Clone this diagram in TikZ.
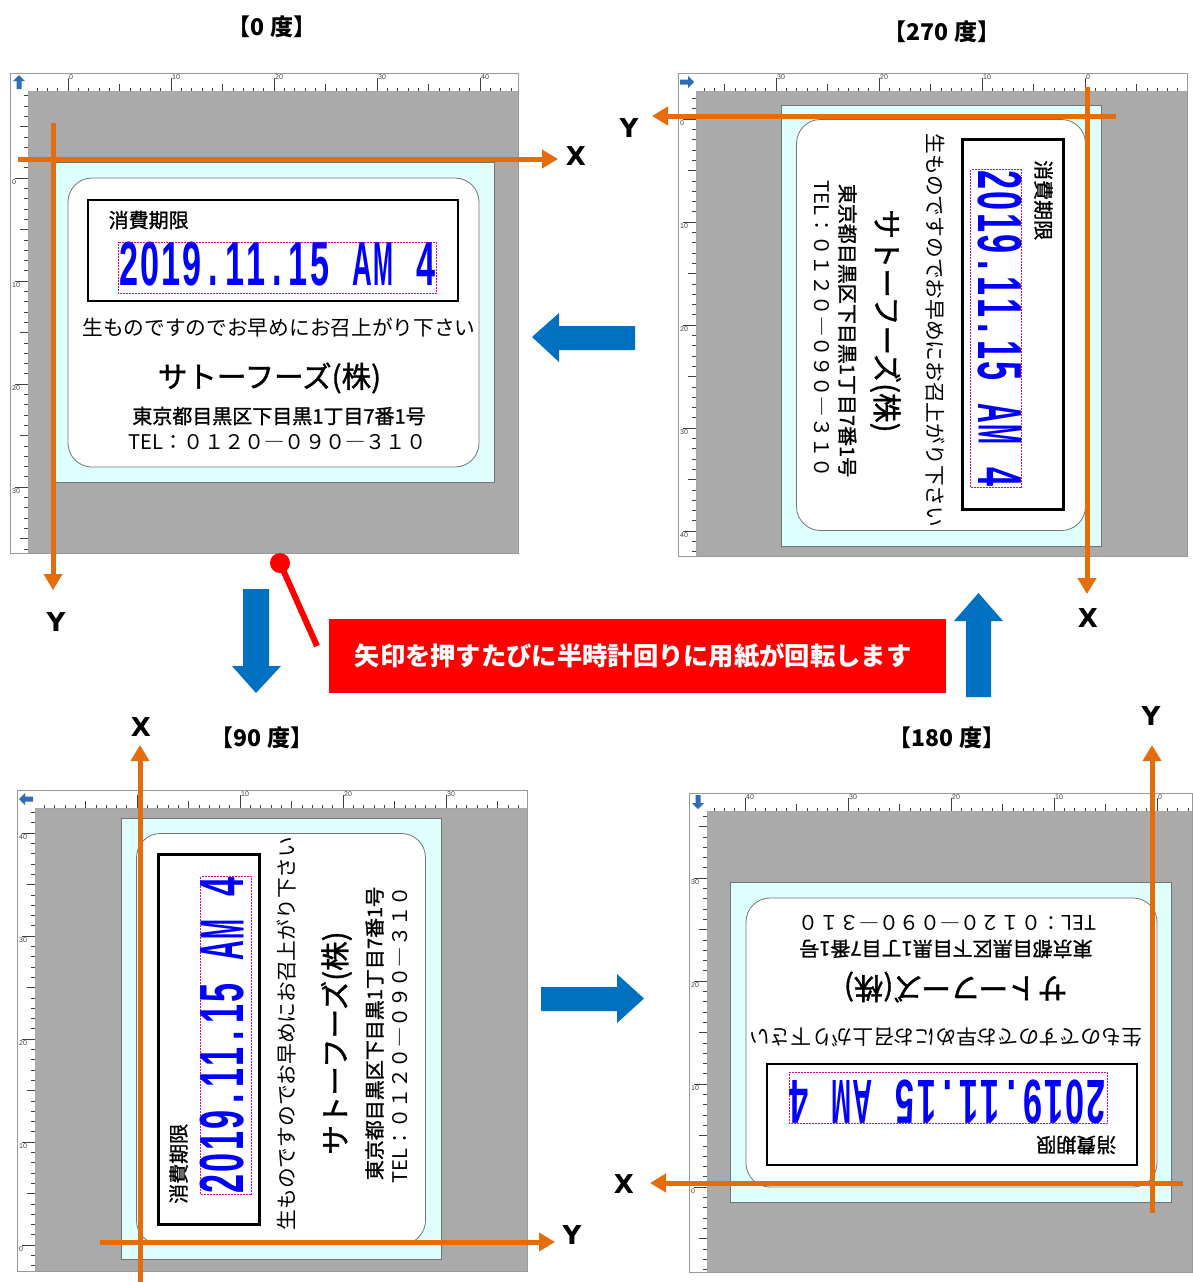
\documentclass[tikz,border=0pt]{standalone}
\usepackage{fontspec}
\usepackage{graphicx}
\usetikzlibrary{arrows.meta}
\newfontfamily\jp{Noto Sans CJK JP}
\newfontfamily\jpm{Noto Sans CJK JP}[FakeBold=1.2]
\newfontfamily\dvs{DejaVu Sans}
\newfontfamily\lib{Liberation Sans}
\definecolor{orng}{RGB}{228,108,10}
\definecolor{bluearr}{RGB}{0,112,192}
\definecolor{cyanp}{RGB}{223,255,255}
\definecolor{grayarea}{RGB}{170,170,170}
\definecolor{iconblue}{RGB}{46,109,181}
\definecolor{datablue}{RGB}{0,0,255}

\newcommand{\mc}[1]{\makebox[0.62em][c]{#1}}
\newcommand{\mcs}[2]{\makebox[0.62em][c]{\scalebox{#1}[1]{#2}}}
\newcommand{\panelframe}[4]{%
  \fill[grayarea] (#1,#2) rectangle (#3,#4);
  \fill[white] (#1,#2) rectangle (#3,#2+18);
  \fill[white] (#1,#2) rectangle (#1+18,#4);
  \draw[black!35, line width=0.6pt] (#1+18,#2+18) -- (#3,#2+18);
  \draw[black!35, line width=0.6pt] (#1+18,#2+18) -- (#1+18,#4);
  \draw[black!40, line width=0.8pt] (#1,#2) rectangle (#3,#4);
}
% #1 y of ruler bottom, #2 origin x, #3 direction, #4 kmin, #5 kmax, #6 y of frame top
\newcommand{\topruler}[6]{%
  \foreach \k in {#4,...,#5}{%
    \pgfmathsetmacro{\xx}{#2+#3*10.3*\k}%
    \pgfmathtruncatemacro{\mm}{mod(abs(\k),10)}%
    \pgfmathtruncatemacro{\ff}{mod(abs(\k),5)}%
    \ifnum\mm=0 \def\tl{13}\else\ifnum\ff=0 \def\tl{7}\else\def\tl{3.5}\fi\fi
    \draw[tickc] (\xx,#1) -- (\xx,#1-\tl);
    \ifnum\mm=0 \ifnum\k>-1 \node[rlab,anchor=north west] at (\xx+1,#6+1.5) {\k};\fi\fi
  }}
% #1 x of ruler right, #2 origin y, #3 direction, #4 kmin, #5 kmax, #6 x of frame left
\newcommand{\leftruler}[6]{%
  \foreach \k in {#4,...,#5}{%
    \pgfmathsetmacro{\yy}{#2+#3*10.3*\k}%
    \pgfmathtruncatemacro{\mm}{mod(abs(\k),10)}%
    \pgfmathtruncatemacro{\ff}{mod(abs(\k),5)}%
    \ifnum\mm=0 \def\tl{13}\else\ifnum\ff=0 \def\tl{8}\else\def\tl{4}\fi\fi
    \draw[tickc] (#1,\yy) -- (#1-\tl,\yy);
    \ifnum\mm=0 \ifnum\k>-1 \node[rlab,anchor=north west] at (#6+2,\yy+1) {\k};\fi\fi
  }}
\newcommand{\cornericon}[3]{%
  \begin{scope}[shift={(#1,#2)},rotate=#3]
    \fill[iconblue] (0,-7) -- (-6,-1) -- (-2.5,-1) -- (-2.5,7) -- (2.5,7) -- (2.5,-1) -- (6,-1) -- cycle;
  \end{scope}}
\newcommand{\labelbody}[1]{%
  \filldraw[fill=cyanp, draw=black!55, line width=0.8pt] (-220,-160) rectangle (221,160);
  \filldraw[fill=white, draw=black!55, line width=0.8pt, rounded corners=24pt] (-205.5,-144.5) rectangle (205.5,144.5);
  \draw[black, line width=2.4pt] (-185.5,-122.5) rectangle (184.5,-21.5);
  \draw[magenta, line width=0.5pt, densely dotted] (-155.5,-80.5) rectangle (162.5,-29.5);
  \node[inner sep=0pt, anchor=base west] (#1-date) at (-155.5,-37.5)
    {\resizebox{318pt}{43.5pt}{\color{datablue}\lib\bfseries\mc2\mc0\mc1\mc9\mc.\mc1\mc1\mc.\mc1\mc5\mc{ }\mcs{0.8}{A}\mcs{0.7}{M}\mc{ }\mc4}};
  \node[inner sep=0pt, anchor=west] (#1-head) at (-165,-102.5)
    {\jpm\fontsize{20pt}{24pt}\selectfont 消費期限};
  \node[inner sep=0pt] (#1-note) at (5.5,5.5)
    {\jp\fontsize{20.7pt}{24pt}\selectfont 生ものですのでお早めにお召上がり下さい};
  \node[inner sep=0pt] (#1-co) at (-4,55.5)
    {\jpm\fontsize{29.5pt}{32pt}\selectfont サトーフーズ(株)};
  \node[inner sep=0pt] (#1-addr) at (5.5,93.5)
    {\jpm\fontsize{20pt}{24pt}\selectfont 東京都目黒区下目黒1丁目7番1号};
  \node[inner sep=0pt] (#1-tel) at (4,119.5)
    {\jp\fontsize{20.2pt}{24pt}\selectfont TEL：０１２０―０９０―３１０};
}

\begin{document}
\begin{tikzpicture}[x=1pt,y=-1pt,
  tickc/.style={draw=black!75, line width=0.6pt},
  rlab/.style={font=\lib\fontsize{7pt}{8pt}\selectfont, text=black!75, inner sep=0pt},
  oaxis/.style={draw=orng, line width=5pt, -{Triangle[width=18pt,length=16pt]}},
  axlab/.style={font=\dvs\bfseries\fontsize{26pt}{30pt}\selectfont, inner sep=0pt},
  ttl/.style={font=\jp\bfseries\fontsize{23pt}{27pt}\selectfont, inner sep=0pt},
  barrow/.style={fill=bluearr}]
\useasboundingbox (0,0) rectangle (1192,1282);

% ---------- panel 0 deg ----------
\panelframe{10}{73}{518}{553}
\topruler{91}{68}{1}{-3}{43}{73}
\leftruler{28}{178}{1}{-8}{36}{10}
\cornericon{19}{82}{0}
\begin{scope}[shift={(273.5,322.5)}, transform shape]
  \labelbody{a}
\end{scope}

% ---------- panel 270 deg ----------
\panelframe{678}{73}{1187}{556}
\topruler{91}{1085}{-1}{-9}{37}{73}
\leftruler{696}{119}{1}{-2}{42}{678}
\cornericon{687}{82}{-90}
\begin{scope}[shift={(941,325)}, rotate=-90, transform shape]
  \labelbody{b}
\end{scope}

% ---------- panel 90 deg ----------
\panelframe{17}{790}{527}{1271}
\topruler{808}{137}{1}{-9}{37}{790}
\leftruler{35}{1245}{-1}{-2}{42}{17}
\cornericon{26}{799}{90}
\begin{scope}[shift={(281,1039)}, rotate=90, transform shape]
  \labelbody{c}
\end{scope}

% ---------- panel 180 deg ----------
\panelframe{689}{793}{1192}{1272}
\topruler{811}{1157}{-1}{-3}{43}{793}
\leftruler{707}{1187}{-1}{-8}{36}{689}
\cornericon{698}{802}{180}
\begin{scope}[shift={(951.5,1042.5)}, rotate=180, transform shape]
  \labelbody{d}
\end{scope}

% ---------- orange axes ----------
\coordinate (a0) at (18,159);   \coordinate (a1) at (558,159);
\coordinate (a2) at (53,123);   \coordinate (a3) at (53,590);
\draw[oaxis] (a0) -- (a1);
\draw[oaxis] (a2) -- (a3);
\coordinate (b0) at (1116,116); \coordinate (b1) at (652,116);
\coordinate (b2) at (1087,87);  \coordinate (b3) at (1087,594);
\draw[oaxis] (b0) -- (b1);
\draw[oaxis] (b2) -- (b3);
\coordinate (c0) at (140,1282); \coordinate (c1) at (140,745);
\coordinate (c2) at (100,1242); \coordinate (c3) at (555,1242);
\draw[oaxis] (c0) -- (c1);
\draw[oaxis] (c2) -- (c3);
\coordinate (d0) at (1183,1183); \coordinate (d1) at (650,1183);
\coordinate (d2) at (1152,1213); \coordinate (d3) at (1152,745);
\draw[oaxis] (d0) -- (d1);
\draw[oaxis] (d2) -- (d3);

% axis labels
\node[axlab] (xa) at (576,156) {X};
\node[axlab] (ya) at (56,622) {Y};
\node[axlab] (yb) at (629,128) {Y};
\node[axlab] (xb) at (1088,618) {X};
\node[axlab] (xc) at (141,727) {X};
\node[axlab] (yc) at (572,1235) {Y};
\node[axlab] (yd) at (1151,716) {Y};
\node[axlab] (xd) at (624,1184) {X};

% titles
\node[ttl] (t0) at (272,27) {【0 度】};
\node[ttl] (t270) at (942,32) {【270 度】};
\node[ttl] (t90) at (262,738) {【90 度】};
\node[ttl] (t180) at (947,738) {【180 度】};

% blue arrows
\fill[barrow] (532,337) -- (559,313) -- (559,326) -- (635,326) -- (635,350) -- (559,350) -- (559,362) -- cycle;
\fill[barrow] (644,998.5) -- (617,974) -- (617,987) -- (541,987) -- (541,1011) -- (617,1011) -- (617,1023) -- cycle;
\fill[barrow] (256,693) -- (232,666) -- (243,666) -- (243,589) -- (269,589) -- (269,666) -- (281,666) -- cycle;
\fill[barrow] (978.5,593) -- (954,621) -- (966,621) -- (966,697) -- (991,697) -- (991,621) -- (1003,621) -- cycle;

% red callout
\coordinate (pinA) at (280,563);
\coordinate (pinB) at (317,646);
\draw[red, line width=6pt] (pinA) -- (pinB);
\fill[red] (pinA) circle (10pt);
\node[fill=red, inner sep=0pt, minimum width=617pt, minimum height=74pt] (callout) at (637.5,656) {};
\node[font=\jp\bfseries\fontsize{25.3pt}{30pt}\selectfont, text=white, inner sep=0pt] (callouttext) at (633,656)
  {矢印を押すたびに半時計回りに用紙が回転します};
\end{tikzpicture}
\end{document}
